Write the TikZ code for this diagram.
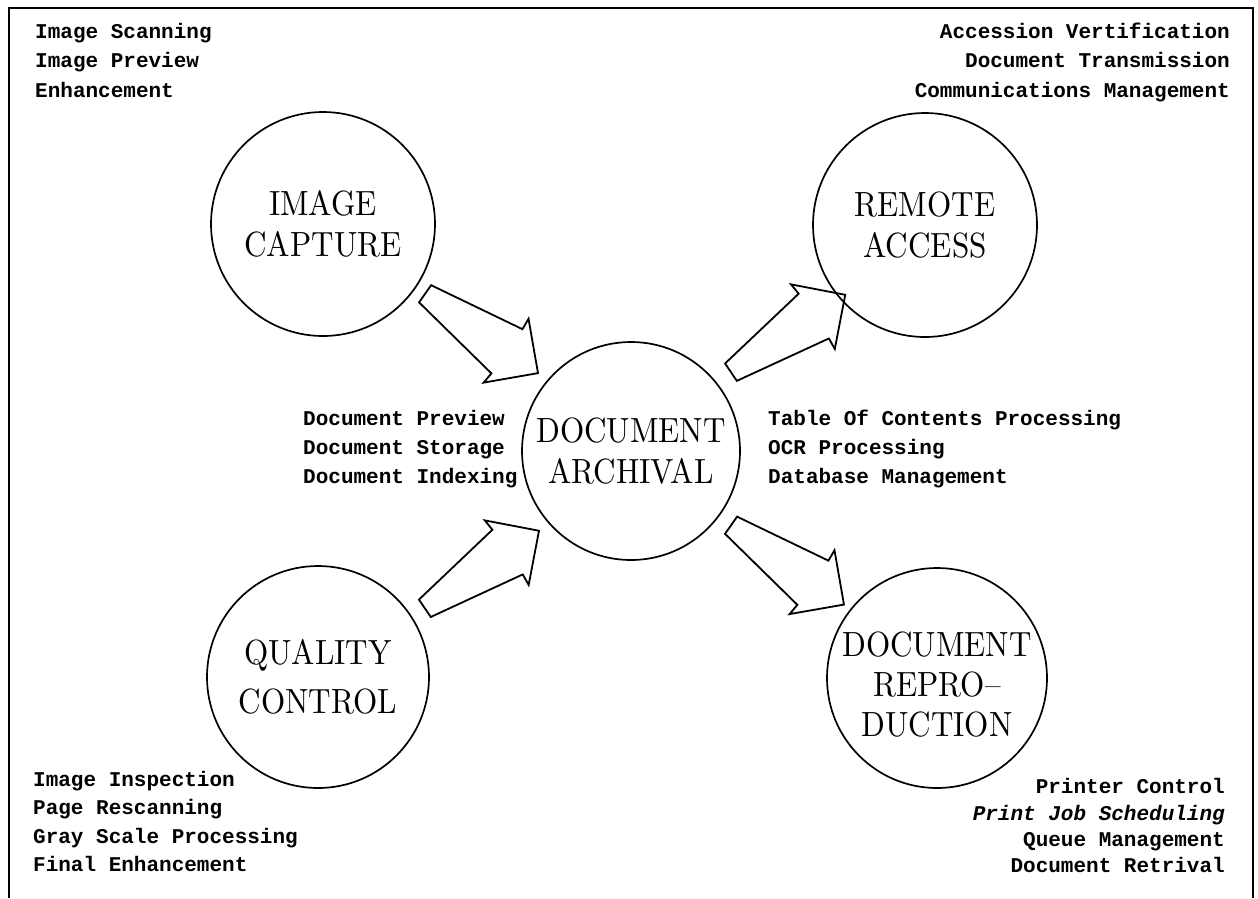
\documentclass[tikz,border=0pt]{standalone}
\usepackage{fontspec}
\newfontfamily\sidefont{Liberation Mono}
\newfontfamily\bigfont{lmroman10-regular}[Extension=.otf, Ligatures=TeX]
\usetikzlibrary{calc}
\tikzset{
  x=1pt, y=-1pt,
  bigcirc/.style={draw, circle, line width=1.7pt, inner sep=0pt, minimum size=#1},
  biglabel/.style={align=center, xscale=0.89, inner sep=0pt, font=\bigfont\fontsize{35}{41}\selectfont},
  side/.style={inner sep=0pt, font=\sidefont\bfseries\fontsize{21}{25}\selectfont},
  pics/barrow/.style={code={
    \draw[line width=1.8pt, line join=miter]
      (0,-10.5) -- (100,-27) -- (99,-39) -- (138,0) -- (99,39) -- (100,27) -- (0,10.5) -- cycle;}}
}
\begin{document}
\begin{tikzpicture}
\useasboundingbox (0,0) rectangle (1258,898);
% frame
\draw[line width=2pt] (9,898) -- (9,8) -- (1253,8) -- (1253,898);

% circles
\node[bigcirc=224] (cap) at (323,224) {};
\node[bigcirc=224] (rem) at (925,225) {};
\node[bigcirc=218] (arch) at (631,451) {};
\node[bigcirc=222] (qual) at (318,677) {};
\node[bigcirc=220] (rep) at (937,678) {};

% circle labels
\node[biglabel] (capT) at (cap.center) {IMAGE\\CAPTURE};
\node[biglabel] (remT) at (rem.center) {REMOTE\\ACCESS};
\node[biglabel] (archT) at (arch.center) {DOCUMENT\\ARCHIVAL};
\node[biglabel, font=\bigfont\fontsize{35}{49}\selectfont] (qualT) at (qual.center) {QUALITY\\CONTROL};
\node[biglabel, font=\bigfont\fontsize{35}{40}\selectfont] (repT) at ($(rep.center)+(0,7)$) {DOCUMENT\\REPRO\textendash\\DUCTION};

% block arrows
\begin{scope}[shift={($(cap.center)!0.325!(arch.center)$)}, shift={(2,-4)}, rotate=-35.1]
  \pic[transform shape] {barrow};
\end{scope}
\begin{scope}[shift={($(arch.center)!0.34!(rem.center)$)}, shift={(0,-2)}, rotate=34.1]
  \pic[transform shape] {barrow};
\end{scope}
\begin{scope}[shift={($(qual.center)!0.335!(arch.center)$)}, shift={(2,7)}, rotate=34.2]
  \pic[transform shape] {barrow};
\end{scope}
\begin{scope}[shift={($(arch.center)!0.327!(rep.center)$)}, rotate=-35.1]
  \pic[transform shape] {barrow};
\end{scope}

% side texts: top left
\node[side, anchor=base west] (tl1) at (35,38) {Image Scanning};
\node[side, anchor=base west] (tl2) at (35,67) {Image Preview};
\node[side, anchor=base west] (tl3) at (35,97) {Enhancement};
% top right
\node[side, anchor=base east] (tr1) at (1230,38) {Accession Vertification};
\node[side, anchor=base east] (tr2) at (1230,67) {Document Transmission};
\node[side, anchor=base east] (tr3) at (1230,97) {Communications Management};
% middle left
\node[side, anchor=base west] (ml1) at (303,425) {Document Preview};
\node[side, anchor=base west] (ml2) at (303,454) {Document Storage};
\node[side, anchor=base west] (ml3) at (303,483) {Document Indexing};
% middle right
\node[side, anchor=base west] (mr1) at (768,425) {Table Of Contents Processing};
\node[side, anchor=base west] (mr2) at (768,454) {OCR Processing};
\node[side, anchor=base west] (mr3) at (768,483) {Database Management};
% bottom left
\node[side, anchor=base west] (bl1) at (33,786) {Image Inspection};
\node[side, anchor=base west] (bl2) at (33,814) {Page Rescanning};
\node[side, anchor=base west] (bl3) at (33,843) {Gray Scale Processing};
\node[side, anchor=base west] (bl4) at (33,871) {Final Enhancement};
% bottom right
\node[side, anchor=base east] (br1) at (1225,793) {Printer Control};
\node[side, anchor=base east] (br2) at (1225,820) {\itshape Print Job Scheduling};
\node[side, anchor=base east] (br3) at (1225,846) {Queue Management};
\node[side, anchor=base east] (br4) at (1225,872) {Document Retrival};
\end{tikzpicture}
\end{document}
